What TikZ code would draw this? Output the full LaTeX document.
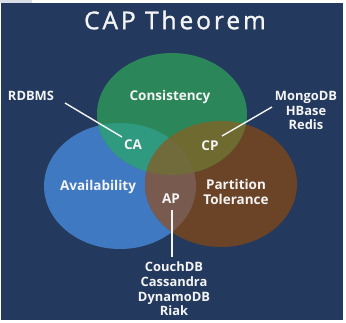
\documentclass[tikz,border=0pt]{standalone}
\usepackage{fontspec}
\setmainfont{Open Sans}
\newfontfamily\titlefont[LetterSpace=12,FakeBold=1.2]{Open Sans}
\begin{document}
\begin{tikzpicture}[x=1pt,y=-1pt,
  bg/.style={fill=navy},
  region/.style={text=labelwhite,font=\bfseries\fontsize{13.5}{15.5}\selectfont,inner sep=0pt},
  dblist/.style={text=labelwhite,font=\bfseries\fontsize{12.9}{14.6}\selectfont,align=center,inner sep=0pt},
  link/.style={draw=labelwhite,line width=1.4pt}]
\definecolor{navy}{HTML}{233A5E}
\definecolor{greenC}{HTML}{2B875A}
\definecolor{blueA}{HTML}{3F79C1}
\definecolor{brownP}{HTML}{6B4427}
\definecolor{tealCA}{HTML}{309A80}
\definecolor{oliveCP}{HTML}{6F6A30}
\definecolor{mauveAP}{HTML}{795A4F}
\definecolor{centreCAP}{HTML}{716A3A}
\definecolor{labelwhite}{HTML}{F4F4F4}
\definecolor{edgegrey}{HTML}{D8DDE6}
\useasboundingbox (0,0) rectangle (346,323);
% page frame and dark panel
\fill[white] (0,0) rectangle (346,323);
\fill[edgegrey] (0,0) rectangle (32,3);
\fill[bg] (1,3) rectangle (343,320);
% the three sets
\def\setC{(172,114) ellipse [x radius=75, y radius=61]}
\def\setA{(120,186) ellipse [x radius=76, y radius=63]}
\def\setP{(221,184) ellipse [x radius=76, y radius=63]}
\fill[blueA] \setA;
\fill[brownP] \setP;
\fill[greenC] \setC;
% pairwise overlaps
\begin{scope}\clip \setC; \fill[tealCA] \setA; \end{scope}
\begin{scope}\clip \setC; \fill[oliveCP] \setP; \end{scope}
\begin{scope}\clip \setA; \fill[mauveAP] \setP; \end{scope}
% triple overlap
\begin{scope}\clip \setC; \clip \setA; \fill[centreCAP] \setP; \end{scope}
% title
\node[text=labelwhite,font=\titlefont\fontsize{24.5}{27}\selectfont,inner sep=0pt] (title) at (175,20) {CAP Theorem};
% set and overlap labels
\node[region] (cons) at (170,97) {Consistency};
\node[region] (avail) at (98,187) {Availability};
\node[region,align=center] (part) at (236,192) {Partition\\Tolerance};
\node[region] (ca) at (133,145) {CA};
\node[region] (cp) at (210,146) {CP};
\node[region] (ap) at (171,199) {AP};
% example systems
\node[dblist] (rdbms) at (31,96) {RDBMS};
\node[dblist] (cpdbs) at (306,110.5) {MongoDB\\HBase\\Redis};
\node[dblist] (apdbs) at (174,289) {CouchDB\\Cassandra\\DynamoDB\\Riak};
% leader lines
\coordinate (rdbmsEnd) at (65,103);
\coordinate (caEnd) at (122,137);
\coordinate (cpEnd) at (222,136);
\coordinate (cpdbsEnd) at (272,107);
\coordinate (apEnd) at (172,210);
\coordinate (apdbsEnd) at (172,257);
\draw[link] (rdbmsEnd) -- (caEnd);
\draw[link] (cpEnd) -- (cpdbsEnd);
\draw[link] (apEnd) -- (apdbsEnd);
\end{tikzpicture}
\end{document}
